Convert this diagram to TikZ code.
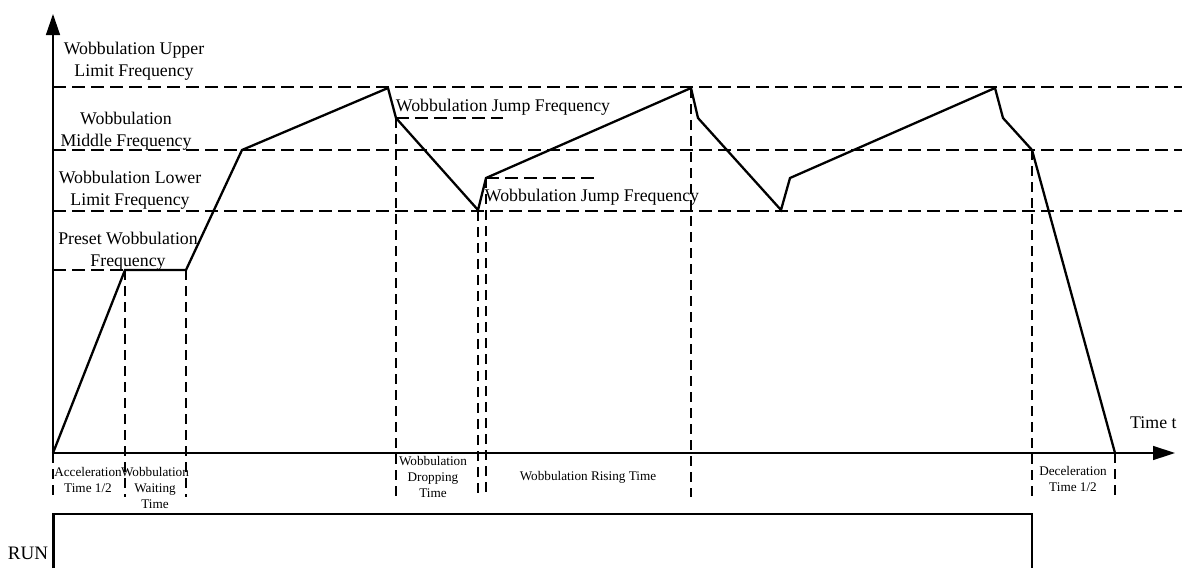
\documentclass[tikz,border=0pt]{standalone}
\usepackage{fontspec}
\setmainfont{Liberation Serif}
\usetikzlibrary{positioning,arrows.meta}

\begin{document}
\begin{tikzpicture}[x=1pt,y=-1pt,
    guide/.style={line width=1.5pt,dash pattern=on 12.5pt off 6.5pt},
    vguide/.style={line width=1.4pt,dash pattern=on 10pt off 6pt},
    curve/.style={line width=2.3pt,line join=miter},
    lbl/.style={align=center,inner sep=0pt,font=\fontsize{17.8}{22}\selectfont},
    small/.style={align=center,inner sep=0pt,font=\fontsize{13.2}{16}\selectfont}]

\useasboundingbox (0,0) rectangle (1182,568);

% axes
\draw[line width=1.4pt,-{Triangle[length=21pt,width=14pt]}] (53,453) -- (53,14);
\draw[line width=1.4pt,-{Triangle[length=22pt,width=14pt]}] (53,453) -- (1175,453);

% frequency levels
\draw[guide] (53,87) -- (1182,87);
\draw[guide] (53,150) -- (1182,150);
\draw[guide] (53,211) -- (1182,211);
\draw[guide] (53,270) -- (125,270);
\draw[guide] (396,118) -- (503,118);
\draw[guide] (486,178) -- (595,178);

% time marks
\foreach \x/\y in {53/453,125/270,186/270,396/118,478/211,486/178,691/88,1032/150,1115/453}
    \draw[vguide] (\x,\y) -- (\x,497);

\draw[curve] (53,453) -- (125,270) -- (186,270) -- (242,150) -- (388,88)
    -- (396,118) -- (478,210) -- (486,178) -- (691,88) -- (698,118)
    -- (781,210) -- (790,178) -- (995,88) -- (1003,118) -- (1032,150)
    -- (1115,453);

% run signal
\draw[line width=2pt] (53,514) -- (1032,514) -- (1032,568);
\draw[line width=3pt] (53,568) -- (53,513);

\node[lbl] (upper) at (134,61) {Wobbulation Upper\\Limit Frequency};
\node[lbl] (middle) at (126,131) {Wobbulation\\Middle Frequency};
\node[lbl] (lower) at (130,190) {Wobbulation Lower\\Limit Frequency};
\node[lbl] (preset) at (128,251) {Preset Wobbulation\\Frequency};
\node[lbl] (jump1) at (503,107) {Wobbulation Jump Frequency};
\node[lbl] (jump2) at (592,197) {Wobbulation Jump Frequency};
\node[lbl,anchor=west] (time) at (1130,423) {Time t};
\node[lbl,font=\fontsize{19}{22}\selectfont] (run) at (28,553) {RUN};

\node[small] (acc) at (88,480) {Acceleration\\Time 1/2};
\node[small] (wait) at (155,488) {Wobbulation\\Waiting\\Time};
\node[small] (drop) at (433,477) {Wobbulation\\Dropping\\Time};
\node[small] (rise) at (588,477) {Wobbulation Rising Time};
\node[small] (dec) at (1073,479) {Deceleration\\Time 1/2};

\end{tikzpicture}
\end{document}
